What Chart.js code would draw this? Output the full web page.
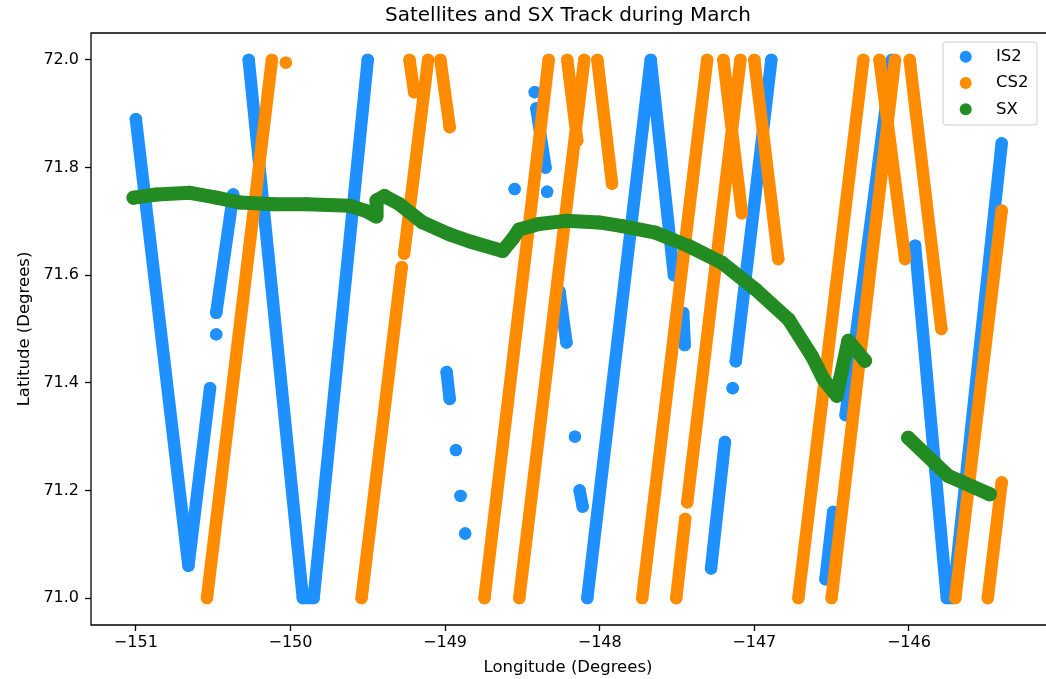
<!DOCTYPE html>
<html>
<head>
<meta charset="utf-8">
<title>Satellites and SX Track during March</title>
<script src="https://cdn.jsdelivr.net/npm/chart.js@4.4.1/dist/chart.umd.min.js"></script>
<style>
  html, body { margin: 0; padding: 0; background: #fff; overflow: hidden; }
  #wrap { width: 1052px; height: 679px; }
</style>
</head>
<body>
<div id="wrap"><canvas id="chart" width="1052" height="679"></canvas></div>
<script>
// track vertices, null = gap between passes
const is2Lon = [
  -151.00, -150.66, -150.52, null,
  -150.48, null,
  -150.48, -150.37, null,
  -150.27, -149.92, -149.85, -149.50, null,
  -148.42, null,
  -148.41, -148.35, null,
  -148.55, null,
  -148.34, null,
  -148.26, -148.215, null,
  -148.99, -148.97, null,
  -148.93, null,
  -148.90, null,
  -148.87, null,
  -148.16, null,
  -148.13, -148.11, null,
  -148.08, -147.67, -147.52, null,
  -147.46, -147.45, null,
  -146.89, -147.12, null,
  -147.14, null,
  -147.19, -147.28, null,
  -146.11, -146.41, null,
  -146.49, -146.54, null,
  -145.96, -145.755, -145.715, -145.40
];
const is2Lat = [
  71.89, 71.06, 71.39, null,
  71.49, null,
  71.53, 71.75, null,
  72.00, 71.00, 71.00, 72.00, null,
  71.94, null,
  71.91, 71.80, null,
  71.76, null,
  71.755, null,
  71.57, 71.475, null,
  71.42, 71.37, null,
  71.275, null,
  71.19, null,
  71.12, null,
  71.30, null,
  71.20, 71.17, null,
  71.00, 72.00, 71.60, null,
  71.53, 71.47, null,
  72.00, 71.44, null,
  71.39, null,
  71.29, 71.055, null,
  72.00, 71.34, null,
  71.16, 71.035, null,
  71.655, 71.00, 71.00, 71.845
];

const cs2Lon = [
  -150.54, -150.12, null,
  -150.03, null,
  -149.54, -149.28, null,
  -149.265, -149.11, null,
  -149.23, -149.20, null,
  -149.03, -148.97, null,
  -148.745, -148.33, null,
  -148.52, -148.10, null,
  -148.21, -148.145, null,
  -148.015, -147.92, null,
  -147.725, -147.305, null,
  -147.20, -147.08, null,
  -147.505, -147.447, null,
  -147.434, -147.09, null,
  -147.00, -146.845, null,
  -146.715, -146.295, null,
  -146.50, -146.09, null,
  -146.19, -146.025, null,
  -145.995, -145.79, null,
  -145.70, -145.40, null,
  -145.49, -145.40
];
const cs2Lat = [
  71.00, 72.00, null,
  71.995, null,
  71.00, 71.615, null,
  71.64, 72.00, null,
  72.00, 71.94, null,
  72.00, 71.875, null,
  71.00, 72.00, null,
  71.00, 72.00, null,
  72.00, 71.85, null,
  72.00, 71.77, null,
  71.00, 72.00, null,
  72.00, 71.715, null,
  71.00, 71.147, null,
  71.178, 72.00, null,
  72.00, 71.63, null,
  71.00, 72.00, null,
  71.00, 72.00, null,
  72.00, 71.63, null,
  72.00, 71.50, null,
  71.00, 71.72, null,
  71.00, 71.215
];

const sxLon = [
  -151.015, -150.865, -150.65, -150.477, -150.327, -150.112, -149.897, -149.617,
  -149.51, -149.445, -149.443, -149.392, -149.295, -149.145, -148.972, -148.822,
  -148.628, -148.564, -148.521, -148.392, -148.219, -148.004, -147.854, -147.639,
  -147.424, -147.209, -146.994, -146.779, -146.628, -146.553, -146.467, -146.445,
  -146.392, -146.284, null,
  -146.005, -145.746, -145.477
];
const sxLat = [
  71.744, 71.750, 71.753, 71.744, 71.735, 71.732, 71.732, 71.729,
  71.719, 71.709, 71.739, 71.747, 71.732, 71.698, 71.676, 71.661,
  71.645, 71.667, 71.685, 71.695, 71.701, 71.698, 71.691, 71.679,
  71.654, 71.623, 71.574, 71.518, 71.450, 71.407, 71.376, 71.407,
  71.478, 71.441, null,
  71.298, 71.227, 71.193
];

const lonTicks = [-151, -150, -149, -148, -147, -146];
const latTicks = [71.0, 71.2, 71.4, 71.6, 71.8, 72.0];

function toPoints(lon, lat) {
  return lon.map((x, i) => ({ x: x, y: lat[i] }));
}

function track(label, lon, lat, color, size, order) {
  return {
    label: label,
    data: toPoints(lon, lat),
    showLine: true,
    spanGaps: false,
    borderColor: color,
    backgroundColor: color,
    borderWidth: size,
    borderCapStyle: "round",
    borderJoinStyle: "round",
    pointRadius: size / 2,
    pointBorderWidth: 0,
    order: order,
  };
}

// left, top and bottom spines; the right one sits past the window edge
const frame = {
  id: "frame",
  afterDatasetsDraw(chart) {
    const { ctx, chartArea: a } = chart;
    ctx.save();
    ctx.strokeStyle = "#000";
    ctx.lineWidth = 1.3;
    ctx.beginPath();
    ctx.moveTo(chart.width, a.top);
    ctx.lineTo(a.left, a.top);
    ctx.lineTo(a.left, a.bottom);
    ctx.lineTo(chart.width, a.bottom);
    ctx.stroke();
    ctx.restore();
  },
};

// legend box in the upper right corner of the plot
const legendBox = {
  id: "legendBox",
  afterDraw(chart) {
    const { ctx, chartArea: a } = chart;
    const w = 94, h = 83;
    const x0 = a.right - 8 - w, y0 = a.top + 9;
    ctx.save();
    ctx.beginPath();
    if (ctx.roundRect) ctx.roundRect(x0, y0, w, h, 3);
    else ctx.rect(x0, y0, w, h);
    ctx.fillStyle = "rgba(255,255,255,0.8)";
    ctx.fill();
    ctx.strokeStyle = "#cccccc";
    ctx.lineWidth = 1;
    ctx.stroke();
    ctx.font = "16.5px 'DejaVu Sans'";
    ctx.textBaseline = "middle";
    chart.data.datasets.forEach((ds, i) => {
      const cy = y0 + 14.7 + i * 26.3;
      ctx.beginPath();
      ctx.arc(x0 + 22.7, cy, 6, 0, Math.PI * 2);
      ctx.fillStyle = ds.backgroundColor;
      ctx.fill();
      ctx.fillStyle = "#000";
      ctx.fillText(ds.label, x0 + 53, cy);
    });
    ctx.restore();
  },
};

Chart.defaults.font.family = "'DejaVu Sans', sans-serif";
Chart.defaults.color = "#000";

new Chart(document.getElementById("chart"), {
  type: "scatter",
  data: {
    datasets: [
      track("IS2", is2Lon, is2Lat, "#1E90FF", 12.4, 3),
      track("CS2", cs2Lon, cs2Lat, "#FF8C00", 12.4, 2),
      track("SX", sxLon, sxLat, "#228B22", 14, 1),
    ],
  },
  options: {
    responsive: false,
    devicePixelRatio: 1,
    animation: false,
    events: [],
    layout: { padding: { left: 0, right: 3, top: 0, bottom: 0 } },
    plugins: {
      legend: { display: false },
      tooltip: { enabled: false },
      title: {
        display: true,
        text: "Satellites and SX Track during March",
        fullSize: false,
        color: "#000",
        font: { size: 20, weight: "normal" },
        padding: { top: 4, bottom: 5 },
      },
    },
    scales: {
      x: {
        type: "linear",
        min: -151.29,
        max: -145.12,
        afterFit: (s) => { s.height = 54; },
        afterBuildTicks: (s) => { s.ticks = lonTicks.map((v) => ({ value: v })); },
        ticks: {
          callback: (v) => "\u2212" + Math.abs(v),
          padding: 2,
          font: { size: 16 },
          maxRotation: 0,
          autoSkip: false,
        },
        grid: { drawOnChartArea: false, tickLength: 6, tickWidth: 1.3, tickColor: "#000" },
        border: { display: false },
        title: {
          display: true,
          text: "Longitude (Degrees)",
          font: { size: 16.5 },
          padding: { top: 0, bottom: 1 },
        },
      },
      y: {
        type: "linear",
        min: 70.95,
        max: 72.05,
        afterFit: (s) => { s.width = 91; },
        afterBuildTicks: (s) => { s.ticks = latTicks.map((v) => ({ value: v })); },
        ticks: {
          callback: (v) => v.toFixed(1),
          padding: 6,
          font: { size: 16 },
        },
        grid: { drawOnChartArea: false, tickLength: 6, tickWidth: 1.3, tickColor: "#000" },
        border: { display: false },
        title: {
          display: true,
          text: "Latitude (Degrees)",
          font: { size: 16.5 },
          padding: { top: 15, bottom: 0 },
        },
      },
    },
  },
  plugins: [frame, legendBox],
});
</script>
</body>
</html>
